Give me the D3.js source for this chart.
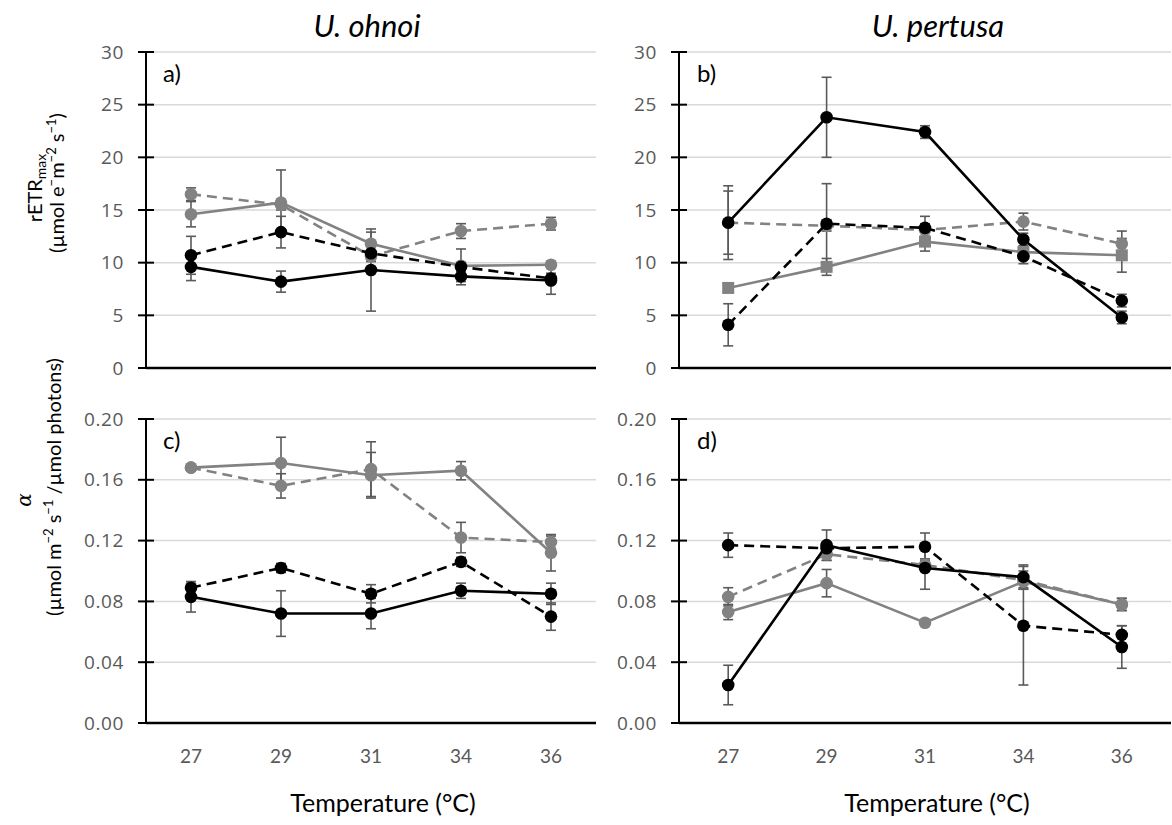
<!DOCTYPE html>
<html>
<head>
<meta charset="utf-8">
<script src="https://cdn.jsdelivr.net/npm/d3@7"></script>
<style>
  html, body { margin: 0; padding: 0; background: #fff; }
  svg { display: block; }
</style>
</head>
<body>
<svg id="chart" width="1172" height="825"></svg>
<script>
// Growth temperatures (°C)
const temps = ["27", "29", "31", "34", "36"];

// Tick labels
const etrTicks = [0, 5, 10, 15, 20, 25, 30];
const alphaTicks = [0, 0.04, 0.08, 0.12, 0.16, 0.20];

// a) U. ohnoi rETRmax
const aBlackSolid = [9.6, 8.2, 9.3, 8.7, 8.3];
const aBlackSolidErr = [1.3, 1.0, 3.9, 0.5, 1.3];
const aBlackDash = [10.7, 12.9, 10.9, 9.6, 8.5];
const aBlackDashErr = [1.8, 1.5, 0.6, 1.7, 0.5];
const aGraySolid = [14.6, 15.7, 11.8, 9.7, 9.8];
const aGraySolidErr = [1.2, 3.1, 1.1, 0.3, 0.3];
const aGrayDash = [16.5, 15.5, 10.6, 13.0, 13.7];
const aGrayDashErr = [0.6, 0.5, 0.5, 0.7, 0.6];

// b) U. pertusa rETRmax
const bBlackSolid = [13.8, 23.8, 22.4, 12.2, 4.8];
const bBlackSolidErr = [3.5, 3.8, 0.6, 0.6, 0.6];
const bBlackDash = [4.1, 13.7, 13.3, 10.6, 6.4];
const bBlackDashErr = [2.0, 3.8, 1.1, 0.7, 0.6];
const bGraySolid = [7.6, 9.6, 12.0, 11.0, 10.7];
const bGraySolidErr = [0.3, 0.8, 0.9, 0.4, 1.6];
const bGrayDash = [13.8, 13.5, 13.1, 13.9, 11.8];
const bGrayDashErr = [3.0, 0.5, 0.6, 0.8, 1.2];

// c) U. ohnoi alpha
const cBlackSolid = [0.083, 0.072, 0.072, 0.087, 0.085];
const cBlackSolidErr = [0.010, 0.015, 0.010, 0.005, 0.007];
const cBlackDash = [0.089, 0.102, 0.085, 0.106, 0.070];
const cBlackDashErr = [0.004, 0.003, 0.006, 0.003, 0.009];
const cGraySolid = [0.168, 0.171, 0.163, 0.166, 0.112];
const cGraySolidErr = [0.002, 0.017, 0.015, 0.006, 0.012];
const cGrayDash = [0.168, 0.156, 0.167, 0.122, 0.119];
const cGrayDashErr = [0.002, 0.008, 0.018, 0.010, 0.004];

// d) U. pertusa alpha
const dBlackSolid = [0.025, 0.117, 0.102, 0.096, 0.050];
const dBlackSolidErr = [0.013, 0.010, 0.014, 0.008, 0.014];
const dBlackDash = [0.117, 0.115, 0.116, 0.064, 0.058];
const dBlackDashErr = [0.008, 0.004, 0.009, 0.039, 0.006];
const dGraySolid = [0.073, 0.092, 0.066, 0.093, 0.078];
const dGraySolidErr = [0.005, 0.009, 0, 0.004, 0.004];
const dGrayDash = [0.083, 0.111, 0.104, 0.094, 0.078];
const dGrayDashErr = [0.006, 0.004, 0.004, 0.006, 0.004];

const GRAY = "#828282";
const ERR = "#5a5a5a";

function seriesSet(gs, gsE, gd, gdE, bs, bsE, bd, bdE, grayShape) {
  return [
    { values: gd, errs: gdE, color: GRAY, dash: "10,6", shape: "circle" },
    { values: gs, errs: gsE, color: GRAY, dash: null, shape: grayShape },
    { values: bd, errs: bdE, color: "#000", dash: "10,6", shape: "circle" },
    { values: bs, errs: bsE, color: "#000", dash: null, shape: "circle" }
  ];
}

const panels = [
  { label: "a)", x0: 146, x1: 596, yTop: 52, yBot: 368, domain: [0, 30], ticks: etrTicks, fmt: d3.format("d"),
    series: seriesSet(aGraySolid, aGraySolidErr, aGrayDash, aGrayDashErr, aBlackSolid, aBlackSolidErr, aBlackDash, aBlackDashErr, "circle") },
  { label: "b)", x0: 679, x1: 1171, yTop: 52, yBot: 368, domain: [0, 30], ticks: etrTicks, fmt: d3.format("d"),
    series: seriesSet(bGraySolid, bGraySolidErr, bGrayDash, bGrayDashErr, bBlackSolid, bBlackSolidErr, bBlackDash, bBlackDashErr, "square") },
  { label: "c)", x0: 146, x1: 596, yTop: 419, yBot: 723, domain: [0, 0.2], ticks: alphaTicks, fmt: d3.format(".2f"),
    series: seriesSet(cGraySolid, cGraySolidErr, cGrayDash, cGrayDashErr, cBlackSolid, cBlackSolidErr, cBlackDash, cBlackDashErr, "circle") },
  { label: "d)", x0: 679, x1: 1171, yTop: 419, yBot: 723, domain: [0, 0.2], ticks: alphaTicks, fmt: d3.format(".2f"),
    series: seriesSet(dGraySolid, dGraySolidErr, dGrayDash, dGrayDashErr, dBlackSolid, dBlackSolidErr, dBlackDash, dBlackDashErr, "circle") }
];

const svg = d3.select("#chart");

panels.forEach(p => {
  const x = d3.scaleBand().domain(temps).range([p.x0, p.x1]);
  const y = d3.scaleLinear().domain(p.domain).range([p.yBot, p.yTop]);
  const cx = t => x(t) + x.bandwidth() / 2;
  const g = svg.append("g");

  // horizontal gridlines
  g.selectAll("line.grid").data(p.ticks.filter(t => t > 0)).join("line")
    .attr("x1", p.x0).attr("x2", p.x1)
    .attr("y1", d => y(d)).attr("y2", d => y(d))
    .attr("stroke", "#d9d9d9").attr("stroke-width", 1.5);

  // y axis with ticks crossing the line
  const yAxis = d3.axisLeft(y).tickValues(p.ticks).tickFormat(p.fmt).tickSize(0).tickPadding(22);
  const ya = g.append("g").attr("transform", `translate(${p.x0},0)`).call(yAxis);
  ya.select(".domain").remove();
  ya.selectAll("text").attr("fill", "#595959").style("font-family", "'Open Sans', sans-serif")
    .style("font-size", "19px").style("letter-spacing", "0.6px");
  g.append("line").attr("x1", p.x0).attr("x2", p.x0).attr("y1", y(p.domain[1])).attr("y2", y(0))
    .attr("stroke", "#000").attr("stroke-width", 2);
  g.selectAll("line.ytick").data(p.ticks).join("line")
    .attr("x1", p.x0 - 8).attr("x2", p.x0 + 8)
    .attr("y1", d => y(d)).attr("y2", d => y(d))
    .attr("stroke", "#000").attr("stroke-width", 2);

  // x axis baseline
  g.append("line").attr("x1", p.x0).attr("x2", p.x1).attr("y1", y(0)).attr("y2", y(0))
    .attr("stroke", "#000").attr("stroke-width", 2.5);

  // panel letter
  g.append("text").attr("x", p.label === "a)" || p.label === "c)" ? p.x0 + 17 : p.x0 + 18)
    .attr("y", p.yTop + 30).text(p.label)
    .style("font-family", "Lato, sans-serif").style("font-size", "24px").attr("fill", "#000");

  // error bars
  p.series.forEach(s => {
    const eg = g.append("g").attr("stroke", ERR).attr("stroke-width", 1.6).attr("fill", "none");
    temps.forEach((t, i) => {
      const e = s.errs[i];
      if (!e) return;
      const yl = y(s.values[i] - e), yh = y(s.values[i] + e), xc = cx(t);
      eg.append("line").attr("x1", xc).attr("x2", xc).attr("y1", yl).attr("y2", yh);
      eg.append("line").attr("x1", xc - 5).attr("x2", xc + 5).attr("y1", yl).attr("y2", yl);
      eg.append("line").attr("x1", xc - 5).attr("x2", xc + 5).attr("y1", yh).attr("y2", yh);
    });
  });

  // lines and markers
  const line = d3.line().x((d, i) => cx(temps[i])).y(d => y(d));
  p.series.forEach(s => {
    g.append("path").datum(s.values).attr("d", line)
      .attr("fill", "none").attr("stroke", s.color).attr("stroke-width", 2.6)
      .attr("stroke-dasharray", s.dash);
    if (s.shape === "square") {
      g.selectAll(null).data(s.values).join("rect")
        .attr("x", (d, i) => cx(temps[i]) - 6).attr("y", d => y(d) - 6)
        .attr("width", 12).attr("height", 12).attr("fill", s.color);
    } else {
      g.selectAll(null).data(s.values).join("circle")
        .attr("cx", (d, i) => cx(temps[i])).attr("cy", d => y(d)).attr("r", 6.3)
        .attr("fill", s.color);
    }
  });

  // x tick labels (bottom panels only)
  if (p.yBot > 500) {
    g.selectAll("text.xt").data(temps).join("text")
      .attr("x", t => cx(t)).attr("y", 763).attr("text-anchor", "middle").text(t => t)
      .attr("fill", "#595959").style("font-family", "Lato, sans-serif").style("font-size", "19px");
    g.append("text").attr("x", (p.x0 + p.x1) / 2 + 12).attr("y", 812).attr("text-anchor", "middle")
      .text("Temperature (\u00B0C)").attr("fill", "#000")
      .style("font-family", "Lato, sans-serif").style("font-size", "25px");
  }
});

// species titles
[["U. ohnoi", 367], ["U. pertusa", 938]].forEach(([t, xc]) => {
  svg.append("text").attr("x", xc).attr("y", 37).attr("text-anchor", "middle").text(t)
    .style("font-family", "Lato, sans-serif").style("font-style", "italic").style("font-size", "31px").attr("fill", "#000");
});

// y axis titles
const titleFont = "Lato, sans-serif";
const t1 = svg.append("text").attr("transform", "translate(42,188) rotate(-90)").attr("text-anchor", "middle")
  .style("font-family", titleFont).style("font-size", "20px");
t1.append("tspan").text("rETR");
t1.append("tspan").attr("baseline-shift", "-25%").style("font-size", "14px").text("max");

const t2 = svg.append("text").attr("transform", "translate(64,183) rotate(-90)").attr("text-anchor", "middle")
  .style("font-family", titleFont).style("font-size", "20px");
t2.append("tspan").text("(\u00B5mol e");
t2.append("tspan").attr("baseline-shift", "super").style("font-size", "13px").text("\u2212");
t2.append("tspan").text("m");
t2.append("tspan").attr("baseline-shift", "super").style("font-size", "13px").text("\u22122");
t2.append("tspan").text(" s");
t2.append("tspan").attr("baseline-shift", "super").style("font-size", "13px").text("\u22121");
t2.append("tspan").text(")");

svg.append("text").attr("transform", "translate(31,500) rotate(-90)").attr("text-anchor", "middle")
  .style("font-family", "'DejaVu Serif', serif").style("font-style", "italic").style("font-size", "20px").text("\u03B1");

const t3 = svg.append("text").attr("transform", "translate(61,487) rotate(-90)").attr("text-anchor", "middle")
  .style("font-family", titleFont).style("font-size", "20px");
t3.append("tspan").text("(\u00B5mol m");
t3.append("tspan").attr("baseline-shift", "super").style("font-size", "13px").text("\u22122");
t3.append("tspan").text(" s");
t3.append("tspan").attr("baseline-shift", "super").style("font-size", "13px").text("\u22121");
t3.append("tspan").text(" /\u00B5mol photons)");
</script>
</body>
</html>
